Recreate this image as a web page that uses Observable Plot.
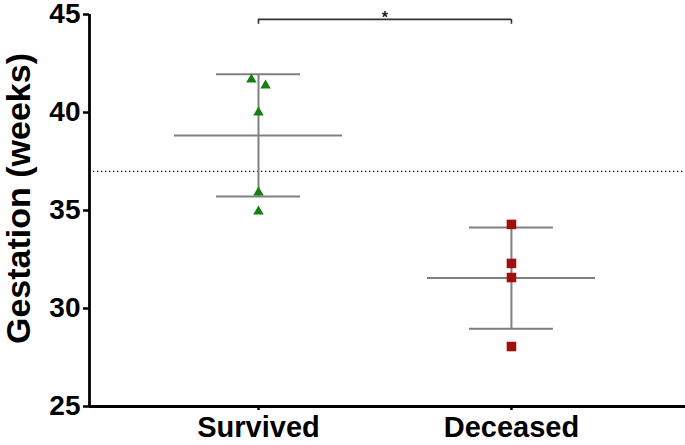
<!DOCTYPE html>
<html>
<head>
<meta charset="utf-8">
<script src="https://cdn.jsdelivr.net/npm/d3@7"></script>
<script src="https://cdn.jsdelivr.net/npm/@observablehq/plot@0.6"></script>
<style>
  html, body { margin: 0; padding: 0; background: #fff; }
  #chart { width: 685px; height: 445px; }
</style>
</head>
<body>
<div id="chart"></div>
<script>
// ---- data ----
const groups = ["Survived", "Deceased"];
const survived = [41.68, 41.38, 40.0, 35.92, 34.95];
const survivedJitter = [-0.028, 0.028, 0, 0, 0];
const deceased = [34.29, 32.3, 31.58, 28.06];
const deceasedJitter = [0, 0, 0, 0];
const means = [38.83, 31.55];
const sds = [3.12, 2.58];
const referenceLine = [37];
const yTicks = [25, 30, 35, 40, 45];
const significance = "*";

// ---- build tables ----
const points = [
  ...survived.map((v, i) => ({group: 0, x: 0 + survivedJitter[i], y: v})),
  ...deceased.map((v, i) => ({group: 1, x: 1 + deceasedJitter[i], y: v}))
];
const stats = groups.map((g, i) => ({i, mean: means[i], lo: means[i] - sds[i], hi: means[i] + sds[i]}));

const font = "'Liberation Sans', Arial, Helvetica, sans-serif";
const gray = "#808080";
const xDomain = [-0.668, 1.688];

const chart = Plot.plot({
  width: 685,
  height: 445,
  marginLeft: 89,
  marginRight: 0,
  marginTop: 14,
  marginBottom: 39,
  style: {fontFamily: font, background: "#fff", overflow: "visible"},
  x: {type: "linear", domain: xDomain},
  y: {domain: [25, 45]},
  marks: [
    // reference line
    Plot.ruleY(referenceLine, {stroke: "#000", strokeWidth: 1.3, strokeDasharray: "1.3,2.7"}),
    // error bars
    Plot.ruleX(stats, {x: "i", y1: "lo", y2: "hi", stroke: gray, strokeWidth: 2}),
    Plot.ruleY(stats, {y: "mean", x1: d => d.i - 0.332, x2: d => d.i + 0.332, stroke: gray, strokeWidth: 2}),
    Plot.ruleY(stats, {y: "hi", x1: d => d.i - 0.166, x2: d => d.i + 0.166, stroke: gray, strokeWidth: 2}),
    Plot.ruleY(stats, {y: "lo", x1: d => d.i - 0.166, x2: d => d.i + 0.166, stroke: gray, strokeWidth: 2}),
    // points
    Plot.dot(points.filter(d => d.group === 0), {x: "x", y: "y", symbol: "triangle", r: 3.9, fill: "#138013", stroke: "none"}),
    Plot.dot(points.filter(d => d.group === 1), {x: "x", y: "y", symbol: "square", r: 5.4, fill: "#a0100c", stroke: "none"}),
    // significance bracket
    Plot.ruleY([44.75], {x1: 0, x2: 1, stroke: "#333", strokeWidth: 1.6}),
    Plot.ruleX([0, 1], {y1: 44.5, y2: 44.75, stroke: "#333", strokeWidth: 1.6}),
    Plot.text([significance], {x: 0.5, y: 44.75, dy: -2, lineAnchor: "middle", fontSize: 16, fontWeight: "bold", fill: "#222", fontFamily: font}),
    // axes
    Plot.ruleY([25], {stroke: "#000", strokeWidth: 2.8}),
    Plot.ruleX([xDomain[0]], {y1: 25, y2: 45, stroke: "#000", strokeWidth: 2.8}),
    Plot.axisY({ticks: yTicks, tickSize: 6, tickPadding: 3, strokeWidth: 2.5, fontSize: 28, fontWeight: "bold", label: null, color: "#000"}),
    Plot.axisX({ticks: [0, 1], tickFormat: i => groups[i], tickSize: 4, tickPadding: 6, strokeWidth: 2.5, fontSize: 29, fontWeight: "bold", label: null, color: "#000"}),
    Plot.text(["Gestation (weeks)"], {frameAnchor: "left", dx: -70, dy: -12, rotate: -90, textAnchor: "middle", fontSize: 34, fontWeight: "bold", fill: "#000", fontFamily: font})
  ]
});
document.getElementById("chart").appendChild(chart);
</script>
</body>
</html>
